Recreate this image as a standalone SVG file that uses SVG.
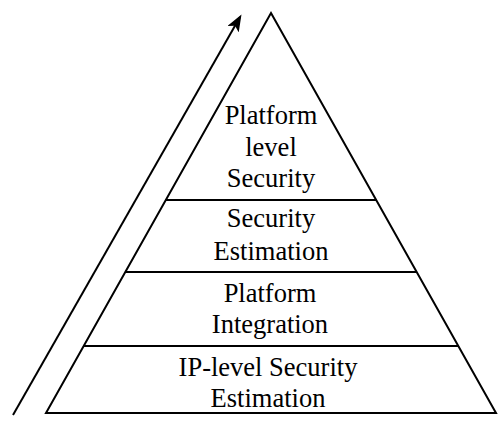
<svg xmlns="http://www.w3.org/2000/svg" width="498" height="433" viewBox="0 0 498 433">
<style>
.ln{stroke:#000;stroke-width:2;fill:none}
.t{font-family:"Liberation Serif","Times New Roman",serif;font-size:26.5px;fill:#000;text-anchor:middle}
</style>
<defs>
<marker id="ah" markerWidth="17" markerHeight="13" refX="14" refY="6.5" orient="auto" markerUnits="userSpaceOnUse" viewBox="0 0 17 13">
<path d="M0,0 L17,6.5 L0,13 L4,6.5 Z" fill="#000"/>
</marker>
</defs>
<rect width="498" height="433" fill="#fff"/>
<g id="pyramid">
<polygon class="ln" points="271,13 496,413 46,413"/>
</g>
<g id="connectors">
<line class="ln" x1="13" y1="415" x2="240" y2="17" marker-end="url(#ah)"/>
</g>
<g id="level4">
<text class="t" x="271" y="124">Platform</text>
<text class="t" x="271" y="156">level</text>
<text class="t" x="271" y="187">Security</text>
</g>
<g id="level3">
<line class="ln" x1="165.8" y1="200" x2="376.2" y2="200"/>
<text class="t" x="271" y="227">Security</text>
<text class="t" x="271" y="260">Estimation</text>
</g>
<g id="level2">
<line class="ln" x1="125.3" y1="272" x2="416.7" y2="272"/>
<text class="t" x="270" y="302">Platform</text>
<text class="t" x="270" y="333">Integration</text>
</g>
<g id="level1">
<line class="ln" x1="83.7" y1="346" x2="458.3" y2="346"/>
<text class="t" x="268" y="376">IP-level Security</text>
<text class="t" x="268" y="407">Estimation</text>
</g>
</svg>
